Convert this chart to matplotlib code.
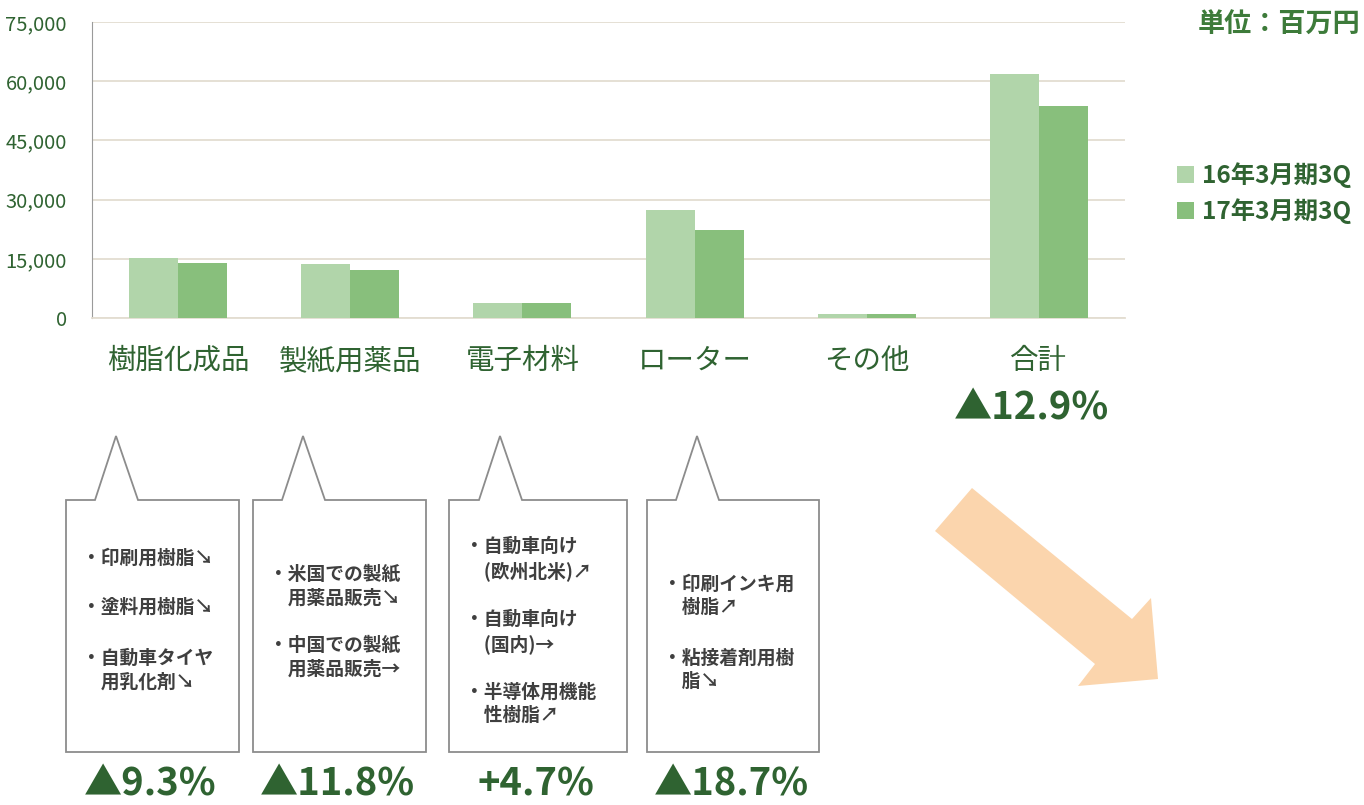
import numpy as np
import matplotlib.pyplot as plt
from matplotlib.patches import Polygon

plt.rcParams['font.family'] = ['Noto Sans CJK JP', 'DejaVu Sans']

# data (百万円)
categories = ['樹脂化成品', '製紙用薬品', '電子材料', 'ローター', 'その他', '合計']
fy16_3q = [15250, 13800, 3720, 27380, 940, 61770]
fy17_3q = [13830, 12150, 3890, 22240, 1120, 53700]
series_names = ['16年3月期3Q', '17年3月期3Q']
yticks = [0, 15000, 30000, 45000, 60000, 75000]

total_change = '▲12.9%'
box_changes = ['▲9.3%', '▲11.8%', '+4.7%', '▲18.7%']
box_texts = [
    ['・印刷用樹脂↘', '・塗料用樹脂↘', '・自動車タイヤ\n　用乳化剤↘'],
    ['・米国での製紙\n　用薬品販売↘', '・中国での製紙\n　用薬品販売→'],
    ['・自動車向け\n　(欧州北米)↗', '・自動車向け\n　(国内)→', '・半導体用機能\n　性樹脂↗'],
    ['・印刷インキ用\n　樹脂↗', '・粘接着剤用樹\n　脂↘'],
]

light = '#b1d5aa'
dark = '#88bf7c'
green_txt = '#2f6331'
grid_c = '#e3ddd1'

W, H = 1364, 805
fig = plt.figure(figsize=(W / 100, H / 100), dpi=100)

ax = fig.add_axes([92 / W, 1 - 318 / H, (1125 - 92) / W, 296 / H])
x = np.arange(len(categories))
bw = 0.285
ax.bar(x - bw / 2, fy16_3q, bw, color=light, label=series_names[0], zorder=3)
ax.bar(x + bw / 2, fy17_3q, bw, color=dark, label=series_names[1], zorder=3)
ax.set_xlim(-0.5, len(categories) - 0.5)
ax.set_ylim(0, 75000)
ax.set_yticks(yticks)
ax.set_yticklabels([f'{v:,}' for v in yticks], fontsize=14.5, color=green_txt)
ax.set_xticks(x)
ax.set_xticklabels(categories, fontsize=20.5, color=green_txt)
ax.tick_params(axis='both', length=0)
ax.tick_params(axis='x', pad=20)
ax.tick_params(axis='y', pad=18)
ax.yaxis.grid(True, color=grid_c, lw=1.3, zorder=0)
for s in ['top', 'right']:
    ax.spines[s].set_visible(False)
ax.spines['left'].set_color('#9a9a9a')
ax.spines['bottom'].set_color(grid_c)
ax.spines['bottom'].set_linewidth(1.3)

leg = fig.legend(loc='upper left', bbox_to_anchor=(1155 / W, 1 - 140 / H), frameon=False,
                 handlelength=0.7, handleheight=0.7, handletextpad=0.35, labelspacing=0.45,
                 prop={'size': 17.5, 'weight': 'bold'})
for t in leg.get_texts():
    t.set_color(green_txt)

# overlay in pixel coordinates for annotations
ov = fig.add_axes([0, 0, 1, 1], zorder=5)
ov.set_xlim(0, W)
ov.set_ylim(H, 0)
ov.axis('off')
ov.patch.set_alpha(0)

ov.text(1360, 25, '単位：百万円', ha='right', va='center', fontsize=19.5, fontweight='bold', color='#3d7b3a')
ov.text(1031, 408, total_change, ha='center', va='center', fontsize=27.5, fontweight='bold', color=green_txt)

boxes = [(66, 239, 116), (253, 426, 303), (449, 627, 500), (647, 819, 697)]
line_y = [[558, 607, 670], [586, 657], [559, 632, 704], [596, 670]]
for (x0, x1, ax_), texts, ys, chg in zip(boxes, box_texts, line_y, box_changes):
    pts = [(x0, 500), (ax_ - 21, 500), (ax_, 436), (ax_ + 22, 500), (x1, 500), (x1, 752), (x0, 752)]
    ov.add_patch(Polygon(pts, closed=True, fill=False, ec='#8c8c8c', lw=1.3))
    for t, yy in zip(texts, ys):
        ov.text(x0 + 16, yy, t, ha='left', va='center', fontsize=13.5, fontweight='bold',
                color='#3f3f3f', linespacing=1.3)
    ov.text((x0 + x1) / 2 - 2, 803, chg, ha='center', va='bottom', fontsize=27.5,
            fontweight='bold', color=green_txt)

arrow = [(935, 531), (972, 488), (1132, 619), (1151, 598), (1158, 679), (1078, 686), (1095, 664)]
ov.add_patch(Polygon(arrow, closed=True, fc='#fbd5ad', ec='none'))

fig.savefig('out.png', dpi=100)
